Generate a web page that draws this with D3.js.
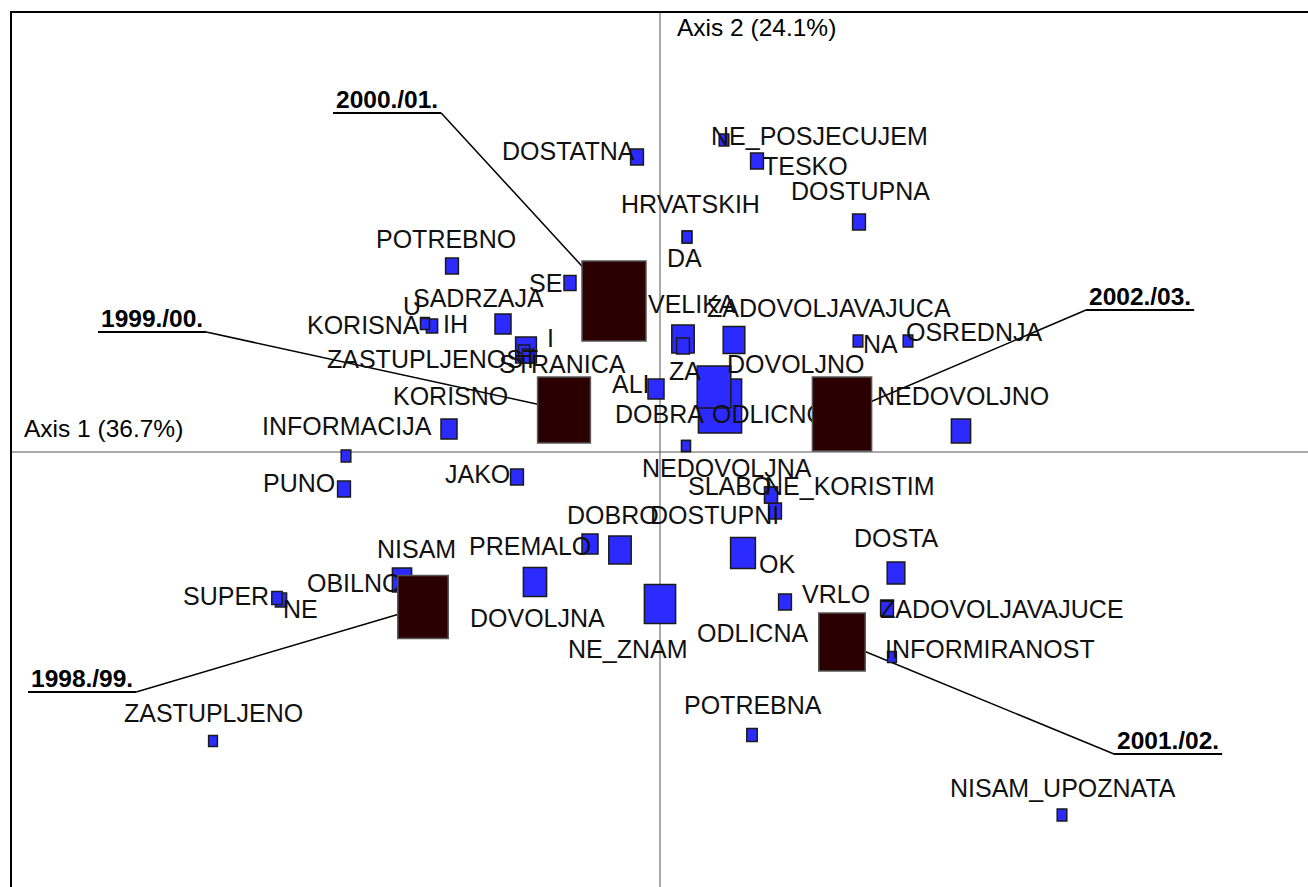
<!DOCTYPE html>
<html>
<head>
<meta charset="utf-8">
<script src="https://cdn.jsdelivr.net/npm/d3@7"></script>
<style>
  body { margin: 0; background: #fff; }
  text { font-family: "Liberation Sans", Arial, sans-serif; }
</style>
</head>
<body>
<svg></svg>
<script>
var width = 1308;
var height = 887;

// column points (words)
var categories = ["DOSTATNA", "NE_POSJECUJEM", "TESKO", "DOSTUPNA", "HRVATSKIH", "DA", "POTREBNO", "SE",
                  "U", "KORISNA", "IH", "SADRZAJA", "ZASTUPLJENOST", "STRANICA", "I", "KORISNO",
                  "INFORMACIJA", "PUNO", "JAKO", "NISAM", "OBILNO", "SUPER", "NE", "PREMALO",
                  "DOBRO", "DOVOLJNA", "NE_ZNAM", "DOSTUPNI", "SLABO", "NE_KORISTIM", "NEDOVOLJNA", "OK",
                  "VRLO", "ODLICNA", "DOSTA", "ZADOVOLJAVAJUCE", "INFORMIRANOST", "POTREBNA", "ZASTUPLJENO", "NISAM_UPOZNATA",
                  "NEDOVOLJNO", "OSREDNJA", "NA", "VELIKA", "ZA", "ZADOVOLJAVAJUCA", "ODLICNO", "DOVOLJNO",
                  "DOBRA", "ALI"];
var dim1 = [-0.046, 0.128, 0.194, 0.398, 0.054, 0.054, -0.416, -0.180,
            -0.470, -0.470, -0.456, -0.314, -0.272, -0.264, -0.268, -0.422,
            -0.628, -0.632, -0.286, -0.516, -0.490, -0.766, -0.758, -0.140,
            -0.080, -0.250, 0.000, 0.230, 0.222, 0.222, 0.052, 0.166,
            0.250, 0.350, 0.472, 0.454, 0.464, 0.184, -0.894, 0.804,
            0.602, 0.496, 0.396, 0.046, 0.046, 0.148, 0.120, 0.108,
            0.052, -0.008];
var dim2 = [0.590, 0.624, 0.582, 0.460, 0.430, 0.430, 0.372, 0.338,
            0.258, 0.256, 0.252, 0.256, 0.200, 0.192, 0.204, 0.046,
            -0.008, -0.074, -0.050, -0.256, -0.296, -0.292, -0.296, -0.184,
            -0.196, -0.260, -0.304, -0.118, -0.086, -0.086, 0.012, -0.202,
            -0.300, -0.356, -0.242, -0.312, -0.410, -0.566, -0.578, -0.726,
            0.042, 0.222, 0.222, 0.226, 0.212, 0.224, 0.092, 0.130,
            0.012, 0.126];
var mass = [0.0256, 0.0144, 0.0256, 0.0256, 0.0144, 0.0144, 0.0256, 0.0225,
            0.0121, 0.0121, 0.0196, 0.0400, 0.0196, 0.0196, 0.0676, 0.0400,
            0.0144, 0.0256, 0.0256, 0.0576, 0.0144, 0.0169, 0.0196, 0.0400,
            0.0784, 0.0841, 0.1521, 0.0256, 0.0256, 0.0256, 0.0121, 0.0961,
            0.0256, 0.0144, 0.0484, 0.0256, 0.0121, 0.0169, 0.0121, 0.0144,
            0.0576, 0.0144, 0.0144, 0.0784, 0.0256, 0.0729, 0.2916, 0.1764,
            0.0121, 0.0400];
// where each word label sits (axis units, text start / baseline)
var labelDim1 = [-0.316, 0.102, 0.206, 0.262, -0.078, 0.014, -0.568, -0.262,
                 -0.514, -0.706, -0.434, -0.494, -0.666, -0.322, -0.226, -0.534,
                 -0.796, -0.794, -0.430, -0.566, -0.706, -0.954, -0.754, -0.382,
                 -0.186, -0.380, -0.184, -0.020, 0.056, 0.210, -0.036, 0.198,
                 0.284, 0.074, 0.388, 0.440, 0.450, 0.048, -1.072, 0.580,
                 0.434, 0.492, 0.406, -0.024, 0.018, 0.094, 0.104, 0.134,
                 -0.090, -0.096];
var labelDim2 = [0.584, 0.614, 0.554, 0.504, 0.478, 0.370, 0.408, 0.320,
                 0.274, 0.236, 0.238, 0.290, 0.168, 0.158, 0.210, 0.094,
                 0.034, -0.080, -0.062, -0.212, -0.280, -0.306, -0.332, -0.206,
                 -0.144, -0.350, -0.412, -0.144, -0.086, -0.086, -0.050, -0.242,
                 -0.302, -0.380, -0.190, -0.332, -0.412, -0.524, -0.540, -0.690,
                 0.094, 0.222, 0.198, 0.278, 0.144, 0.270, 0.058, 0.158,
                 0.058, 0.118];

// row points (school years)
var years = ["1998./99.", "1999./00.", "2000./01.", "2001./02.", "2002./03."];
var yearDim1 = [-0.474, -0.192, -0.092, 0.364, 0.364];
var yearDim2 = [-0.310, 0.084, 0.302, -0.380, 0.076];
var yearMass = [0.3969, 0.4356, 0.6400, 0.3364, 0.5476];
var yearLabelDim1 = [-1.258, -1.118, -0.648, 0.914, 0.858];
var yearLabelDim2 = [-0.470, 0.250, 0.688, -0.594, 0.294];

var axisTitles = ["Axis 1 (36.7%)", "Axis 2 (24.1%)"];

var words = categories.map((c, i) => ({
    name: c, x: dim1[i], y: dim2[i], m: mass[i], lx: labelDim1[i], ly: labelDim2[i]
}));
var rows = years.map((c, i) => ({
    name: c, x: yearDim1[i], y: yearDim2[i], m: yearMass[i], lx: yearLabelDim1[i], ly: yearLabelDim2[i]
}));

var x = d3.scaleLinear().domain([-1.298, 1.298]).range([11, 1309]);
var y = d3.scaleLinear().domain([-0.87, 0.88]).range([887, 12]);
var size = d3.scaleSqrt().domain([0, 1]).range([0, 100]);
var aspect = 0.8;

var svg = d3.select("svg")
            .attr("width", width)
            .attr("height", height);

// axes through the origin
svg.append("line")
    .attr("x1", 11).attr("x2", width)
    .attr("y1", y(0)).attr("y2", y(0))
    .attr("stroke", "#555").attr("stroke-width", 1);
svg.append("line")
    .attr("x1", x(0)).attr("x2", x(0))
    .attr("y1", 12).attr("y2", height)
    .attr("stroke", "#555").attr("stroke-width", 1);

// frame: left + top only
svg.append("path")
    .attr("d", "M11," + height + "V12H" + width)
    .attr("fill", "none")
    .attr("stroke", "#000")
    .attr("stroke-width", 2);

svg.append("text")
    .attr("x", 24).attr("y", y(0) - 15)
    .style("font-size", "24.5px")
    .text(axisTitles[0]);
svg.append("text")
    .attr("x", x(0) + 17).attr("y", 36)
    .style("font-size", "24.5px")
    .text(axisTitles[1]);

// year labels first (need their widths for underline + leader)
var leaders = svg.append("g");
var yearText = svg.append("g").selectAll("text")
    .data(rows)
    .enter()
    .append("text")
        .attr("x", d => x(d.lx))
        .attr("y", d => y(d.ly))
        .style("font-size", "24.5px")
        .style("font-weight", "bold")
        .text(d => d.name);

yearText.each(function(d) {
    var w = this.getComputedTextLength();
    d.u0 = x(d.lx) - 3;
    d.u1 = x(d.lx) + w + 3;
    d.uy = y(d.ly) + 5;
});

leaders.selectAll("line.under")
    .data(rows)
    .enter()
    .append("line")
        .attr("x1", d => d.u0).attr("x2", d => d.u1)
        .attr("y1", d => d.uy).attr("y2", d => d.uy)
        .attr("stroke", "#000").attr("stroke-width", 2);

leaders.selectAll("line.lead")
    .data(rows)
    .enter()
    .append("line")
        .attr("x1", d => ((d.u0 + d.u1) / 2 < x(d.x)) ? d.u1 : d.u0)
        .attr("y1", d => d.uy)
        .attr("x2", d => x(d.x))
        .attr("y2", d => y(d.y))
        .attr("stroke", "#000").attr("stroke-width", 1.5);

// word squares, biggest first
var sorted = words.slice().sort((a, b) => b.m - a.m);
svg.append("g").selectAll("rect")
    .data(sorted)
    .enter()
    .append("rect")
        .attr("x", d => x(d.x) - size(d.m) * aspect / 2)
        .attr("y", d => y(d.y) - size(d.m) / 2)
        .attr("width", d => size(d.m) * aspect)
        .attr("height", d => size(d.m))
        .attr("fill", "#2b2bff")
        .attr("stroke", "#1a1a1a")
        .attr("stroke-width", 1.5);

svg.append("g").selectAll("text")
    .data(words)
    .enter()
    .append("text")
        .attr("x", d => x(d.lx))
        .attr("y", d => y(d.ly))
        .attr("fill", "#111")
        .style("font-size", "25px")
        .text(d => d.name);

// year boxes on top
svg.append("g").selectAll("rect")
    .data(rows)
    .enter()
    .append("rect")
        .attr("x", d => x(d.x) - size(d.m) * aspect / 2)
        .attr("y", d => y(d.y) - size(d.m) / 2)
        .attr("width", d => size(d.m) * aspect)
        .attr("height", d => size(d.m))
        .attr("fill", "#2b0000")
        .attr("stroke", "#555")
        .attr("stroke-width", 1.5);

// keep year text above its underline
yearText.raise();
</script>
</body>
</html>
